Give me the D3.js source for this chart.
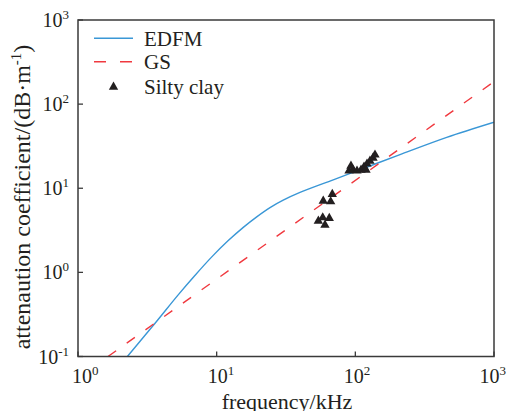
<!DOCTYPE html>
<html>
<head>
<meta charset="utf-8">
<script src="https://cdn.jsdelivr.net/npm/d3@7"></script>
<style>
  body { margin: 0; background: #fff; }
  svg { display: block; }
  text { font-family: "Liberation Serif", "Times New Roman", serif; fill: #231f20; }
</style>
</head>
<body>
<svg id="chart"></svg>
<script>
// EDFM model curve (kHz, dB/m)
const edfmFreq  = [2.27, 3.67, 5.26, 6.94, 9.15, 12.07, 15.56, 19.45, 24.25, 30.2, 39.9, 69.3, 120.8, 209.9, 456, 1000];
const edfmAtten = [0.1, 0.259, 0.537, 0.912, 1.507, 2.371, 3.428, 4.571, 5.888, 7.211, 8.913, 12.59, 17.78, 25.12, 40.27, 60.95];

// GS model, a straight line on log-log axes
const gsFreq  = [1.645, 1000];
const gsAtten = [0.1, 185];

// measured silty clay
const clayFreq  = [54.1, 64.9, 60.4, 58.2, 58.7, 68.2, 66.4,
                   90.0, 96.2, 102.8, 109.9, 115.5, 121.4, 127.5, 134.1, 138.6, 93.0, 119.4];
const clayAtten = [4.08, 4.40, 3.66, 4.47, 7.06, 8.49, 6.93,
                   16.1, 16.5, 16.1, 16.5, 17.9, 19.5, 21.1, 22.9, 24.9, 18.4, 16.5];

const xTicks = [1, 10, 100, 1000];
const yTicks = [0.1, 1, 10, 100, 1000];

const legendItems = ["EDFM", "GS", "Silty clay"];

const width = 507, height = 411;
const margin = {top: 20, right: 13, bottom: 54.5, left: 78};
const blue = "#3a97d6", red = "#f0393f", axisColor = "#3a3a3a";

const svg = d3.select("#chart")
    .attr("width", width)
    .attr("height", height);

const x = d3.scaleLog()
    .domain([1, 1000])
    .range([margin.left, width - margin.right]);

const y = d3.scaleLog()
    .domain([0.1, 1000])
    .range([height - margin.bottom, margin.top]);

svg.append("clipPath").attr("id", "plot-clip")
    .append("rect")
    .attr("x", margin.left).attr("y", margin.top)
    .attr("width", x.range()[1] - margin.left)
    .attr("height", y.range()[0] - margin.top);

const plot = svg.append("g").attr("clip-path", "url(#plot-clip)");

// EDFM
const edfm = edfmFreq.map((f, i) => [f, edfmAtten[i]]);
plot.append("path")
    .datum(edfm)
    .attr("fill", "none")
    .attr("stroke", blue)
    .attr("stroke-width", 1.4)
    .attr("d", d3.line()
        .x(d => x(d[0]))
        .y(d => y(d[1]))
        .curve(d3.curveCatmullRom.alpha(0.5)));

// GS
const gs = gsFreq.map((f, i) => [f, gsAtten[i]]);
plot.append("path")
    .datum(gs)
    .attr("fill", "none")
    .attr("stroke", red)
    .attr("stroke-width", 1.4)
    .attr("stroke-dasharray", "10,13")
    .attr("d", d3.line().x(d => x(d[0])).y(d => y(d[1])));

// silty clay points
const tri = d3.symbol().type(d3.symbolTriangle).size(38);
plot.append("g")
    .selectAll("path")
    .data(clayFreq.map((f, i) => [f, clayAtten[i]]))
    .join("path")
    .attr("transform", d => `translate(${x(d[0])},${y(d[1])})`)
    .attr("d", tri)
    .attr("fill", "#231f20");

// frame
const x0 = x.range()[0], x1 = x.range()[1], y0 = y.range()[0], y1 = y.range()[1];
svg.append("rect")
    .attr("x", x0).attr("y", y1)
    .attr("width", x1 - x0).attr("height", y0 - y1)
    .attr("fill", "none")
    .attr("stroke", axisColor)
    .attr("stroke-width", 1.5);

// inward ticks
const tickLen = 5;
svg.append("g")
    .selectAll("line")
    .data(xTicks)
    .join("line")
    .attr("x1", d => x(d)).attr("x2", d => x(d))
    .attr("y1", y0).attr("y2", y0 - tickLen)
    .attr("stroke", axisColor).attr("stroke-width", 1.3);

svg.append("g")
    .selectAll("line")
    .data(yTicks)
    .join("line")
    .attr("x1", x0).attr("x2", x0 + tickLen)
    .attr("y1", d => y(d)).attr("y2", d => y(d))
    .attr("stroke", axisColor).attr("stroke-width", 1.3);

// tick labels as 10^n
const expOf = d => Math.round(Math.log10(d));

const xLab = svg.append("g")
    .selectAll("text")
    .data(xTicks)
    .join("text")
    .attr("x", (d, i) => x(d) - 6 - 2.8 * i)
    .attr("y", 383)
    .attr("font-size", 20);
xLab.append("tspan").text("10");
xLab.append("tspan").attr("dy", -8).attr("font-size", 13).text(d => expOf(d));

const yLab = svg.append("g")
    .selectAll("text")
    .data(yTicks)
    .join("text")
    .attr("x", 69)
    .attr("y", d => y(d) + 7)
    .attr("text-anchor", "end")
    .attr("font-size", 20);
yLab.append("tspan").text("10");
yLab.append("tspan").attr("dy", -8).attr("font-size", 13).text(d => expOf(d));

// axis titles
svg.append("text")
    .attr("x", 287)
    .attr("y", 409)
    .attr("text-anchor", "middle")
    .attr("font-size", 22)
    .text("frequency/kHz");

const yt = svg.append("text")
    .attr("transform", "translate(30,197) rotate(-90)")
    .attr("text-anchor", "middle")
    .attr("font-size", 24);
yt.append("tspan").text("attenaution coefficient/(dB·m");
yt.append("tspan").attr("dy", -9).attr("font-size", 15).text("-1");
yt.append("tspan").attr("dy", 9).text(")");

// legend
const legend = svg.append("g");
const legY = [38.3, 61.7, 86];
legend.append("line")
    .attr("x1", 94).attr("x2", 133).attr("y1", legY[0]).attr("y2", legY[0])
    .attr("stroke", blue).attr("stroke-width", 1.4);
legend.append("line")
    .attr("x1", 94).attr("x2", 133).attr("y1", legY[1]).attr("y2", legY[1])
    .attr("stroke", red).attr("stroke-width", 1.4)
    .attr("stroke-dasharray", "12,14");
legend.append("path")
    .attr("transform", `translate(113.5,${legY[2] + 1})`)
    .attr("d", tri)
    .attr("fill", "#231f20");
legend.selectAll("text")
    .data(legendItems)
    .join("text")
    .attr("x", 144)
    .attr("y", (d, i) => legY[i] + 7.6)
    .attr("font-size", 21)
    .text(d => d);
</script>
</body>
</html>
